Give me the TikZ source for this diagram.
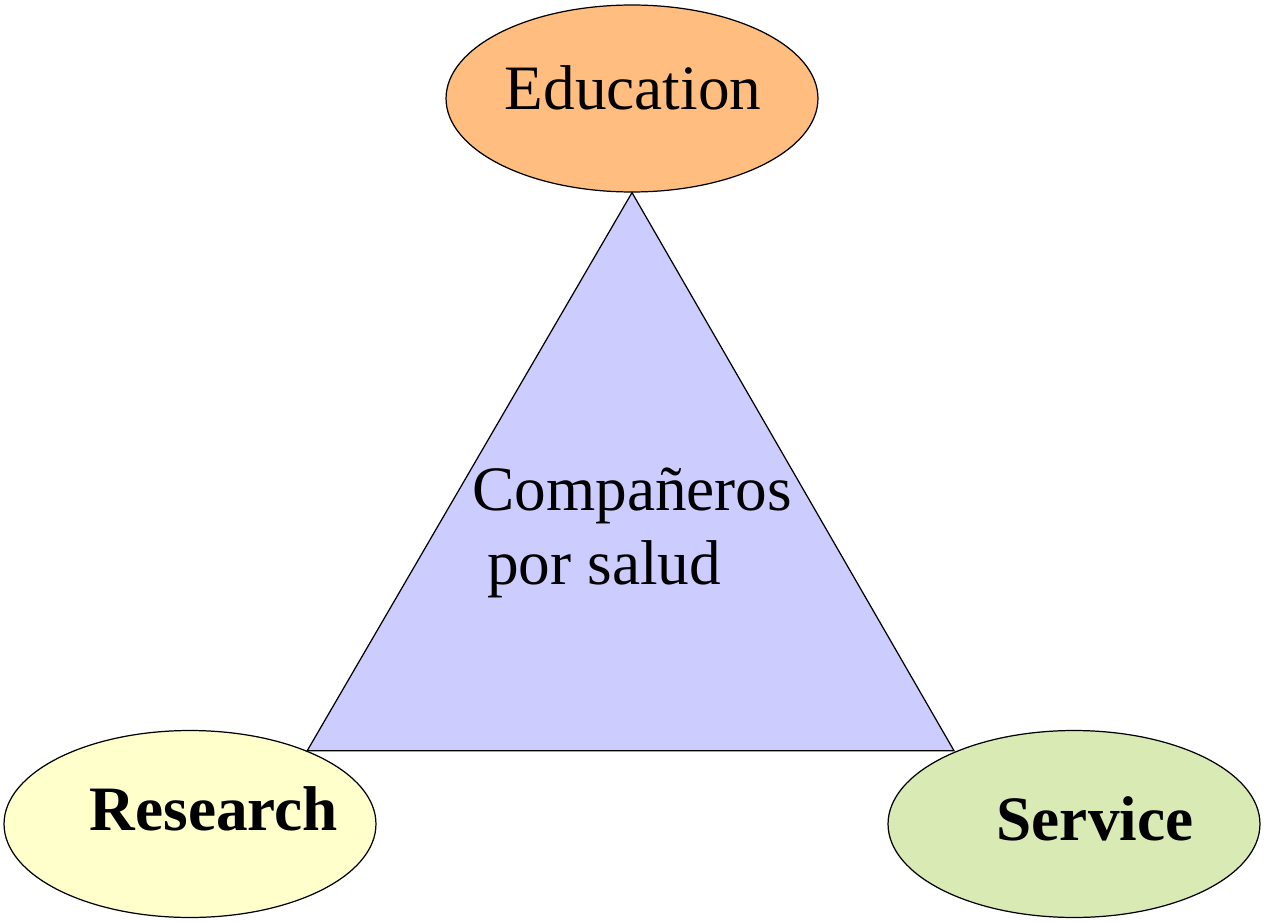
\documentclass[tikz,border=0pt]{standalone}
\usepackage{fontspec}
\setmainfont{Liberation Serif}
\usepackage{tikz}
\usetikzlibrary{shapes.geometric}
\definecolor{naranja}{RGB}{255,190,128}
\definecolor{amarillo}{RGB}{255,255,204}
\definecolor{verde}{RGB}{217,234,181}
\definecolor{lila}{RGB}{204,204,255}
\tikzstyle{elipse} = [ellipse,minimum width=7.44cm,minimum height=3.74cm,inner sep=0pt,draw=black,line width=0.7pt]
\tikzstyle{texto} = [inner sep=0pt,font=\fontsize{36}{43}\selectfont]
\tikzstyle{textonegro} = [inner sep=0pt,font=\fontsize{36}{43}\selectfont\bfseries]
\tikzstyle{triangulo} = [draw=black,fill=lila,line width=0.7pt,line join=miter]

\begin{document}
\begin{tikzpicture}[x=0.02cm,y=-0.02cm]
\useasboundingbox (0,0) rectangle (1268,922);

\node (edu) [elipse,fill=naranja] at (632,98.5) {};
\node (res) [elipse,fill=amarillo] at (190,824) {};
\node (ser) [elipse,fill=verde] at (1074,824) {};

\draw[triangulo] (edu.south) -- (res.32) -- (res.32 -| ser.149) -- cycle;

\node (edutxt) [texto,anchor=base,xshift=0.02cm,yshift=-0.23cm] at (edu) {Education};
\node (restxt) [textonegro,anchor=base,xshift=0.48cm,yshift=-0.12cm] at (res) {Research};
\node (sertxt) [textonegro,anchor=base,xshift=0.42cm,yshift=-0.32cm] at (ser) {Service};

\node (comp) [texto,anchor=base west] at (472,510) {Compañeros};
\node (salud) [texto,anchor=base west,xshift=0.3cm,yshift=-1.5cm] at (comp.base west) {por salud};
\end{tikzpicture}
\end{document}
